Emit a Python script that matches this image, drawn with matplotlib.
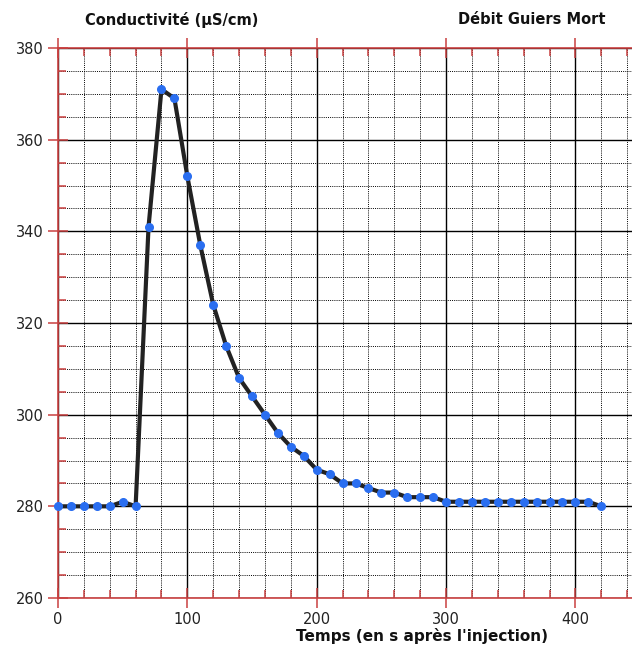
import matplotlib
matplotlib.use("Agg")
import matplotlib.pyplot as plt
from matplotlib.ticker import MultipleLocator

# Data
temps = [0, 10, 20, 30, 40, 50, 60, 70, 80, 90, 100, 110, 120, 130, 140, 150,
         160, 170, 180, 190, 200, 210, 220, 230, 240, 250, 260, 270, 280, 290,
         300, 310, 320, 330, 340, 350, 360, 370, 380, 390, 400, 410, 420]
conductivite = [280, 280, 280, 280, 280, 281, 280, 341, 371, 369, 352, 337, 324,
                315, 308, 304, 300, 296, 293, 291, 288, 287, 285, 285, 284, 283,
                283, 282, 282, 282, 281, 281, 281, 281, 281, 281, 281, 281, 281,
                281, 281, 281, 280]
x_ticks = [0, 100, 200, 300, 400]
y_ticks = [260, 280, 300, 320, 340, 360, 380]

W, H = 632, 653
fig = plt.figure(figsize=(W / 100, H / 100), dpi=100)
left_px, right_px, top_px, bot_px = 58, 633.6, 48, 598
ax = fig.add_axes([left_px / W, 1 - bot_px / H, (right_px - left_px) / W, (bot_px - top_px) / H])

red = "#c94040"
ax.set_xlim(0, 445)
ax.set_ylim(260, 380)
ax.xaxis.set_major_locator(MultipleLocator(100))
ax.xaxis.set_minor_locator(MultipleLocator(20))
ax.yaxis.set_major_locator(MultipleLocator(20))
ax.yaxis.set_minor_locator(MultipleLocator(5))
ax.set_xticks(x_ticks)
ax.set_yticks(y_ticks)

ax.grid(which="minor", color="black", linestyle=(0, (1, 1.2)), linewidth=0.7)
ax.grid(which="major", color="black", linestyle="-", linewidth=1.0)
ax.set_axisbelow(True)

for s in ["left", "bottom", "top"]:
    ax.spines[s].set_color(red)
    ax.spines[s].set_linewidth(1.2)
ax.spines["right"].set_visible(False)

ax.tick_params(which="major", direction="inout", length=14, width=1.1, color=red,
               top=True, bottom=True, left=True, right=False, labelsize=10.5,
               labelcolor="#222222", pad=3)
ax.tick_params(which="minor", direction="in", length=6, width=1.1, color=red,
               top=True, bottom=True, left=True, right=False)

ax.plot(temps, conductivite, color="#222222", linewidth=3.0, zorder=3,
        solid_joinstyle="round", solid_capstyle="round")
ax.plot(temps, conductivite, linestyle="none", marker="o", markersize=5.5,
        markerfacecolor="#2a6ef0", markeredgecolor="#2a6ef0", zorder=4, clip_on=False)

fig.text(85 / W, 1 - 20 / H, "Conductivité (µS/cm)", fontsize=10.5, fontweight="bold",
         ha="left", va="center", color="#111111")
fig.text(458 / W, 1 - 20 / H, "Débit Guiers Mort", fontsize=10.5, fontweight="bold",
         ha="left", va="center", color="#111111")
fig.text(422 / W, 1 - 636 / H, "Temps (en s après l'injection)", fontsize=11,
         fontweight="bold", ha="center", va="center", color="#111111")

fig.savefig("out.png", dpi=100, facecolor="white")
